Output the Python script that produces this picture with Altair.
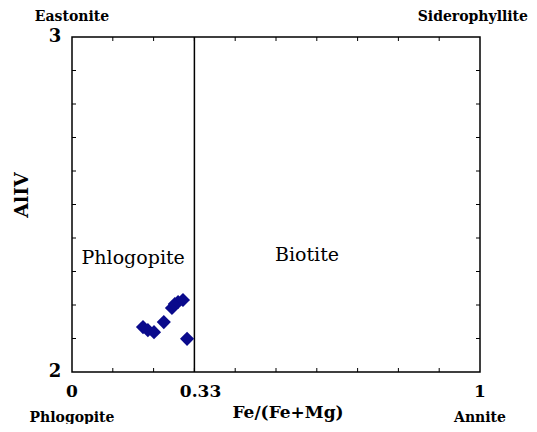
import altair as alt
import pandas as pd

# Data
fe_ratio = [0.174, 0.186, 0.201, 0.225, 0.245, 0.252, 0.260, 0.272, 0.282]
al_iv = [2.134, 2.125, 2.119, 2.149, 2.191, 2.203, 2.209, 2.215, 2.099]

divider_x = 0.30
x_tick_vals = [0.1, 0.2, 0.3, 0.4, 0.5, 0.6, 0.7, 0.8, 0.9]
y_tick_vals = [2.1, 2.2, 2.3, 2.4, 2.5, 2.6, 2.7, 2.8, 2.9]
x_label_pos = [0.0, 0.315, 1.0]
x_label_txt = ["0", "0.33", "1"]
y_label_pos = [2.0, 3.0]
y_label_txt = ["2", "3"]
top_left_txt = "Eastonite"
top_right_txt = "Siderophyllite"
bottom_x = [0.0, 1.0]
bottom_txt = ["Phlogopite", "Annite"]
field_x = [0.15, 0.576]
field_y = [2.34, 2.349]
field_txt = ["Phlogopite", "Biotite"]
x_title = "Fe/(Fe+Mg)"
y_title = "AlIV"

W, H = 408, 335
PAD = {"left": 64, "top": 29, "right": 49, "bottom": 52}
FONT = "DejaVu Serif"

xs = alt.Scale(domain=[0, 1], nice=False, zero=False)
ys = alt.Scale(domain=[2, 3], nice=False, zero=False)


def X(f):
    return alt.X(f, type="quantitative", scale=xs, axis=None)


def Y(f):
    return alt.Y(f, type="quantitative", scale=ys, axis=None)


pts = pd.DataFrame({"x": fe_ratio, "y": al_iv})
xt = pd.DataFrame({"v": x_tick_vals})
yt = pd.DataFrame({"v": y_tick_vals})
xl = pd.DataFrame({"v": x_label_pos, "t": x_label_txt})
yl = pd.DataFrame({"v": y_label_pos, "t": y_label_txt})
tl = pd.DataFrame({"v": [0.0], "t": [top_left_txt]})
tr = pd.DataFrame({"t": [top_right_txt]})
bl = pd.DataFrame({"v": bottom_x, "t": bottom_txt})
fl = pd.DataFrame({"x": field_x, "y": field_y, "t": field_txt})
dv = pd.DataFrame({"x": [divider_x], "y": [2.0], "y2": [3.0]})
tx = pd.DataFrame({"t": [x_title]})
ty = pd.DataFrame({"t": [y_title]})

points = alt.Chart(pts).mark_point(shape="diamond", filled=True, size=200,
                                   color="#0a0a8c", opacity=1).encode(
    x=X("x"), y=Y("y"))

divider = alt.Chart(dv).mark_rule(color="black", strokeWidth=1.5).encode(
    x=X("x"), y=Y("y"), y2="y2:Q")

bt = alt.Chart(xt).mark_rule(color="black", strokeWidth=1).encode(
    x=X("v"), y=alt.value(H), y2=alt.value(H - 4))
tt = alt.Chart(xt).mark_rule(color="black", strokeWidth=1).encode(
    x=X("v"), y=alt.value(0), y2=alt.value(4))
lt = alt.Chart(yt).mark_rule(color="black", strokeWidth=1).encode(
    y=Y("v"), x=alt.value(0), x2=alt.value(4))
rt = alt.Chart(yt).mark_rule(color="black", strokeWidth=1).encode(
    y=Y("v"), x=alt.value(W), x2=alt.value(W - 4))

xlab = alt.Chart(xl).mark_text(font=FONT, fontWeight="bold", fontSize=17,
                               color="black", baseline="middle").encode(
    x=X("v"), y=alt.value(H + 20), text="t:N")
ylab = alt.Chart(yl).mark_text(font=FONT, fontWeight="bold", fontSize=18,
                               color="black", baseline="middle").encode(
    y=Y("v"), x=alt.value(-17), text="t:N")

top_lab = alt.Chart(tl).mark_text(
    font=FONT, fontWeight="bold", fontSize=14, color="black", baseline="middle").encode(
    x=X("v"), y=alt.value(-20), text="t:N")
top_rlab = alt.Chart(tr).mark_text(
    font=FONT, fontWeight="bold", fontSize=14, color="black", baseline="middle",
    align="right").encode(
    x=alt.value(W + PAD["right"] - 1), y=alt.value(-20), text="t:N")
bot_lab = alt.Chart(bl).mark_text(
    font=FONT, fontWeight="bold", fontSize=14, color="black", baseline="middle").encode(
    x=X("v"), y=alt.value(H + 46), text="t:N")

fields = alt.Chart(fl).mark_text(font=FONT, fontSize=19, color="black",
                                 baseline="middle").encode(
    x=X("x"), y=Y("y"), text="t:N")

xtitle = alt.Chart(tx).mark_text(
    font=FONT, fontWeight="bold", fontSize=17, color="black", baseline="middle").encode(
    x=alt.value(216), y=alt.value(H + 41), text="t:N")
ytitle = alt.Chart(ty).mark_text(
    font=FONT, fontWeight="bold", fontSize=19, color="black", baseline="middle",
    angle=270).encode(
    x=alt.value(-50), y=alt.value(158), text="t:N")

chart = alt.layer(divider, bt, tt, lt, rt, points, xlab, ylab, top_lab, top_rlab,
                  bot_lab, fields, xtitle, ytitle).properties(
    width=W, height=H,
    autosize=alt.AutoSizeParams(type="none"),
    padding=PAD,
    background="white",
).configure_view(stroke="black", strokeWidth=1.5)

chart.save("out.html", embed_options={"renderer": "svg", "actions": False})
